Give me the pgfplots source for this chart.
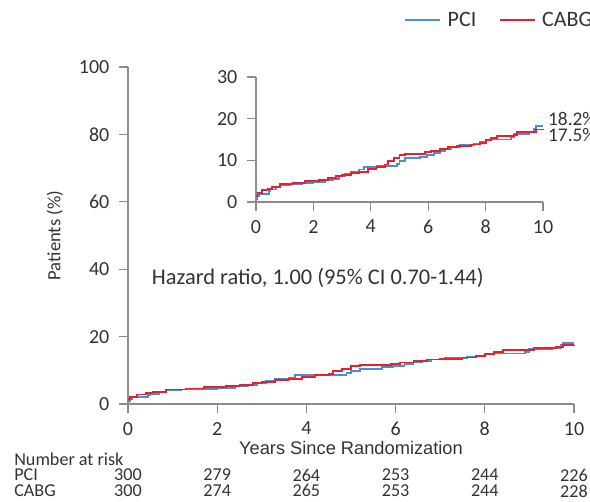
\documentclass[border=0pt]{standalone}
\usepackage{pgfplots}
\pgfplotsset{compat=1.18}
\usepackage{fontspec}
\setmainfont{Carlito}
\newfontfamily\arialfont{Liberation Sans}
\definecolor{pciblue}{HTML}{4A8FD2}
\definecolor{cabgred}{HTML}{EA1F2B}
\definecolor{axgray}{HTML}{8C8C8C}
\definecolor{txtgray}{HTML}{333333}

% Kaplan-Meier cumulative incidence (%), step values held from each x
\pgfplotstableread{
x y
0 0.8
0.05 1.5
0.1 2.0
0.45 2.6
0.5 3.0
0.7 3.6
0.85 4.0
1.2 4.3
1.6 4.5
2.0 4.8
2.4 5.2
2.7 5.6
2.9 6.2
3.1 6.7
3.3 7.3
3.6 7.8
3.75 8.5
4.2 8.7
4.9 9.2
5.0 9.8
5.2 10.5
5.7 10.9
5.95 11.3
6.2 11.8
6.4 12.3
6.6 12.8
6.8 13.2
7.1 13.6
7.6 13.9
7.8 14.3
8.0 14.8
8.2 15.0
8.9 15.5
9.0 16.4
9.5 16.7
9.7 17.5
9.75 18.2
10 18.2
}\pci
\pgfplotstableread{
x y
0 1.5
0.05 2.2
0.2 2.8
0.4 3.2
0.55 3.6
0.85 4.3
1.3 4.6
1.7 5.0
2.2 5.3
2.5 5.7
2.8 6.2
3.0 6.5
3.3 7.0
3.6 7.3
3.9 7.9
4.2 8.5
4.5 9.0
4.6 9.8
4.8 10.5
5.0 11.2
5.2 11.6
5.9 11.9
6.1 12.3
6.4 12.7
6.7 13.2
7.0 13.4
7.5 13.8
7.8 14.2
8.0 14.8
8.2 15.4
8.4 15.9
9.0 16.0
9.1 16.7
9.6 16.9
9.75 17.4
10 17.5
}\cabg

\pgfplotsset{
  km/.style={
    scale only axis, clip=false,
    axis lines*=left, axis line style={axgray, line width=1pt},
    tick align=outside, major tick length=6.5pt,
    tick style={axgray, line width=1pt},
    xmin=0, xmax=10, xtick={0,2,...,10},
    tick label style={font=\fontsize{15}{17}\selectfont, text=txtgray},
    yticklabel style={xshift=-4pt},
    xticklabel style={yshift=-3.5pt},
    /pgf/number format/assume math mode=true,
  },
  pcistyle/.style={const plot mark left, pciblue, line width=1.4pt, no marks},
  cabgstyle/.style={const plot mark left, cabgred, line width=1.4pt, no marks},
}

\begin{document}
\begin{tikzpicture}
\begin{axis}[km,
  at={(0,0)}, anchor=south west,
  width=334.5pt, height=252.75pt,
  ymin=0, ymax=100, ytick={0,20,...,100},
  xlabel={\arialfont Years Since Randomization},
  xlabel style={at={(axis description cs:0.5,-0.131)}, anchor=center,
    font=\fontsize{13.7}{15}\selectfont, text=txtgray},
  ylabel={Patients (\%)},
  ylabel style={at={(axis description cs:-0.164,0.5)}, anchor=center,
    font=\fontsize{14}{16}\selectfont, text=txtgray},
  legend columns=2,
  legend style={draw=none, fill=none, at={(axis description cs:1.066,1.18)},
    anchor=north east, font=\fontsize{16.5}{18}\selectfont, text=txtgray,
    /tikz/every even column/.append style={column sep=12pt},
    nodes={inner xsep=5pt}},
  legend image code/.code={\draw[#1, line width=1.4pt] (0pt,0pt) -- (26pt,0pt);},
]
\addplot[pcistyle] table {\pci};
\addlegendentry{PCI}
\addplot[cabgstyle] table {\cabg};
\addlegendentry{CABG}

\node[anchor=west, text=txtgray, font=\fontsize{16.8}{18}\selectfont, inner sep=0pt]
  at (axis cs:0.53,37.5) {Hazard ratio, 1.00 (95\% CI 0.70-1.44)};

% number at risk
\begin{scope}[every node/.style={text=txtgray, font=\fontsize{13.6}{14}\selectfont, inner sep=0pt}]
\node[anchor=west] at (axis cs:-2.556,-16.3) {Number at risk};
\node[anchor=west] at (axis cs:-2.556,-21.1) {PCI};
\node[anchor=west] at (axis cs:-2.556,-25.8) {CABG};
\node at (axis cs:0,-21.1) {300};
\node at (axis cs:2,-21.1) {279};
\node at (axis cs:4,-21.1) {264};
\node at (axis cs:6,-21.1) {253};
\node at (axis cs:8,-21.1) {244};
\node at (axis cs:10,-21.1) {226};
\node at (axis cs:0,-25.8) {300};
\node at (axis cs:2,-25.8) {274};
\node at (axis cs:4,-25.8) {265};
\node at (axis cs:6,-25.8) {253};
\node at (axis cs:8,-25.8) {244};
\node at (axis cs:10,-25.8) {228};
\end{scope}
\end{axis}

\begin{axis}[km,
  at={(96pt,151.5pt)}, anchor=south west,
  width=215.25pt, height=93.75pt,
  ymin=0, ymax=30, ytick={0,10,20,30},
]
\addplot[pcistyle] table {\pci};
\addplot[cabgstyle] table {\cabg};
\node[anchor=west, text=txtgray, font=\fontsize{14.5}{16}\selectfont, inner sep=0pt]
  at (axis cs:10.17,20.0) {18.2\%};
\node[anchor=west, text=txtgray, font=\fontsize{14.5}{16}\selectfont, inner sep=0pt]
  at (axis cs:10.17,16.1) {17.5\%};
\end{axis}

\pgfresetboundingbox
\useasboundingbox (-96pt,-73.5pt) rectangle (346.5pt,303pt);
\end{tikzpicture}
\end{document}
